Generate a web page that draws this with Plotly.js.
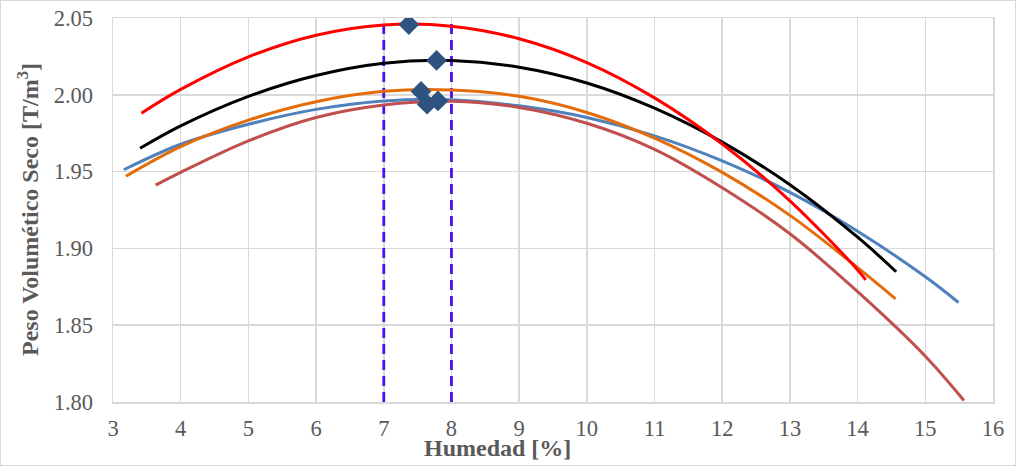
<!DOCTYPE html>
<html>
<head>
<meta charset="utf-8">
<script src="https://cdn.plot.ly/plotly-3.0.1.min.js"></script>
<style>
  html, body { margin: 0; padding: 0; background: #ffffff; }
  #chart { position: absolute; left: 0; top: 0; width: 1016px; height: 466px; box-sizing: border-box; border: 1px solid #d9d9d9; }
</style>
</head>
<body>
<div id="chart"></div>
<script>
// ---- data ----
const redX    = [3.42, 4, 5, 6, 7, 8, 9, 10, 11, 12, 13, 14, 14.12];
const redY    = [1.988, 2.0035, 2.0247, 2.0388, 2.0455, 2.0447, 2.0365, 2.021, 1.998, 1.968, 1.931, 1.886, 1.8795];

const blackX  = [3.40, 4, 5, 6, 7, 8, 9, 10, 11, 12, 13, 14, 14.57];
const blackY  = [1.9652, 1.9798, 1.999, 2.0126, 2.0206, 2.0223, 2.018, 2.0077, 1.9913, 1.9692, 1.9414, 1.9073, 1.8848];

const orangeX = [3.19, 4, 5, 6, 7, 8, 9, 10, 11, 12, 13, 14, 14.56];
const orangeY = [1.947, 1.9663, 1.9835, 1.9955, 2.0023, 2.0032, 1.999, 1.9885, 1.9718, 1.9495, 1.9215, 1.8875, 1.8672];

const blueX   = [3.16, 4, 5, 6, 7, 8, 9, 10, 11, 12, 13, 14, 15, 15.49];
const blueY   = [1.9512, 1.9678, 1.9808, 1.9905, 1.996, 1.9968, 1.9928, 1.9852, 1.9733, 1.957, 1.9365, 1.9112, 1.8815, 1.8648];

const brownX  = [3.63, 4, 5, 6, 7, 8, 9, 10, 11, 12, 13, 14, 15, 15.57];
const brownY  = [1.9412, 1.9495, 1.97, 1.9852, 1.9934, 1.9958, 1.9918, 1.9815, 1.9645, 1.9395, 1.9095, 1.8718, 1.8298, 1.801];

const peakX   = [7.37, 7.78, 7.55, 7.64, 7.80];
const peakY   = [2.0457, 2.0224, 2.0022, 1.9939, 1.996];

const limitX1 = [7, 7];
const limitX2 = [8, 8];
const limitY  = [1.80, 2.05];

const xTitle = 'Humedad [%]';
const yTitle = 'Peso Volumético Seco [T/m<sup>3</sup>]';

// ---- traces ----
function curve(x, y, color) {
  return { x: x, y: y, type: 'scatter', mode: 'lines',
           line: { color: color, width: 3, shape: 'spline', smoothing: 1 },
           hoverinfo: 'skip', showlegend: false, cliponaxis: true };
}
function vline(x) {
  return { x: x, y: limitY, type: 'scatter', mode: 'lines',
           line: { color: '#4A0DF5', width: 2.8, dash: '10px,6px' },
           hoverinfo: 'skip', showlegend: false };
}

const traces = [
  vline(limitX1),
  vline(limitX2),
  curve(blueX, blueY, '#4F81BD'),
  curve(brownX, brownY, '#C0504D'),
  curve(orangeX, orangeY, '#E46C0A'),
  curve(blackX, blackY, '#000000'),
  curve(redX, redY, '#FF0000'),
  { x: peakX, y: peakY, type: 'scatter', mode: 'markers',
    marker: { symbol: 'diamond', size: 16, color: '#2E5380' },
    hoverinfo: 'skip', showlegend: false }
];

const plotL = 112, plotR = 22, plotT = 17, plotB = 63;
const W = 1014, H = 464;
const pw = W - plotL - plotR, ph = H - plotT - plotB;
const tickFont = { family: '"Liberation Serif", serif', size: 22.5, color: '#595959' };
const titleFont = { family: '"Liberation Serif", serif', size: 24, color: '#595959' };

const layout = {
  width: W, height: H,
  margin: { l: plotL, r: plotR, t: plotT, b: plotB, pad: 0 },
  paper_bgcolor: '#ffffff', plot_bgcolor: '#ffffff',
  font: { family: '"Liberation Serif", "Times New Roman", serif', size: 22, color: '#595959' },
  xaxis: {
    range: [3, 16], dtick: 1, tick0: 3, fixedrange: true,
    showgrid: true, gridcolor: '#d9d9d9', gridwidth: 1.5,
    showline: true, linecolor: '#d9d9d9', linewidth: 1.5, mirror: true,
    zeroline: false, ticks: '', ticklabelstandoff: 5,
    tickfont: tickFont
  },
  yaxis: {
    range: [1.80, 2.05], dtick: 0.05, tick0: 1.80, tickformat: '.2f', fixedrange: true,
    showgrid: true, gridcolor: '#d9d9d9', gridwidth: 1.5,
    showline: true, linecolor: '#d9d9d9', linewidth: 1.5, mirror: true,
    zeroline: false, ticks: '', ticklabelstandoff: 14,
    tickfont: tickFont
  },
  annotations: [
    { text: '<b>' + xTitle + '</b>', xref: 'paper', yref: 'paper',
      x: (497 - 113) / pw, y: (401 - 447) / ph, xanchor: 'center', yanchor: 'middle',
      showarrow: false, font: titleFont },
    { text: '<b>' + yTitle + '</b>', xref: 'paper', yref: 'paper', textangle: -90,
      x: (28 - 113) / pw, y: 0.5, xanchor: 'center', yanchor: 'middle',
      showarrow: false, font: titleFont }
  ]
};

Plotly.newPlot('chart', traces, layout, { displayModeBar: false, staticPlot: true });
</script>
</body>
</html>
